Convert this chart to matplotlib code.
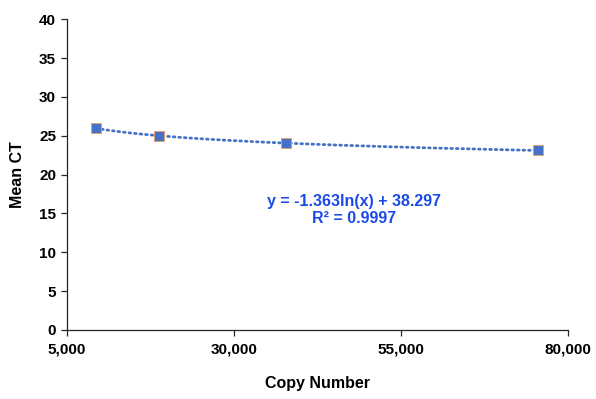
import numpy as np
import matplotlib.pyplot as plt

# Data
copy_number = [9400, 18800, 37800, 75500]
mean_ct = [25.95, 25.0, 24.05, 23.1]
eq_text = "y = -1.363ln(x) + 38.297"
r2_text = "R² = 0.9997"

plt.rcParams['font.family'] = ['Liberation Sans', 'DejaVu Sans']
plt.rcParams['font.weight'] = 'bold'

fig = plt.figure(figsize=(5.96, 3.99), dpi=100)
ax = fig.add_axes([0.1117, 0.173, 0.8414, 0.779])

# logarithmic trendline fitted to the points
x = np.array(copy_number, dtype=float)
coef = np.polyfit(np.log(x), mean_ct, 1)
xs = np.linspace(x.min(), x.max(), 200)
ax.plot(xs, coef[0] * np.log(xs) + coef[1], color='#4472C4', lw=2,
        linestyle=(0, (0.6, 1.4)), dash_capstyle='round', zorder=2)

ax.scatter(copy_number, mean_ct, marker='s', s=45, color='#4472C4',
           edgecolors='#ED9B60', linewidths=0.6, zorder=3)

ax.text(0.573, 0.386, eq_text + "\n" + r2_text, ha='center', va='center',
        transform=ax.transAxes, color='#1A4BE8', fontsize=11.5,
        fontweight='bold', linespacing=1.1)

ax.set_xlim(5000, 80000)
ax.set_ylim(0, 40)
ax.set_xticks([5000, 30000, 55000, 80000])
ax.set_xticklabels(['5,000', '30,000', '55,000', '80,000'])
ax.set_yticks(range(0, 41, 5))

for side in ['top', 'right']:
    ax.spines[side].set_visible(False)
for side in ['left', 'bottom']:
    ax.spines[side].set_color('#262626')
    ax.spines[side].set_linewidth(0.9)

ax.tick_params(direction='out', length=4, width=0.9, color='#262626',
               labelsize=11, labelcolor='black')
for lab in ax.get_xticklabels() + ax.get_yticklabels():
    lab.set_fontweight('bold')
ax.tick_params(axis='x', pad=5)

ax.set_xlabel('Copy Number', fontsize=11.5, fontweight='bold', labelpad=14)
ax.set_ylabel('Mean CT', fontsize=11.5, fontweight='bold', labelpad=10)

fig.savefig('out.png', dpi=100)
